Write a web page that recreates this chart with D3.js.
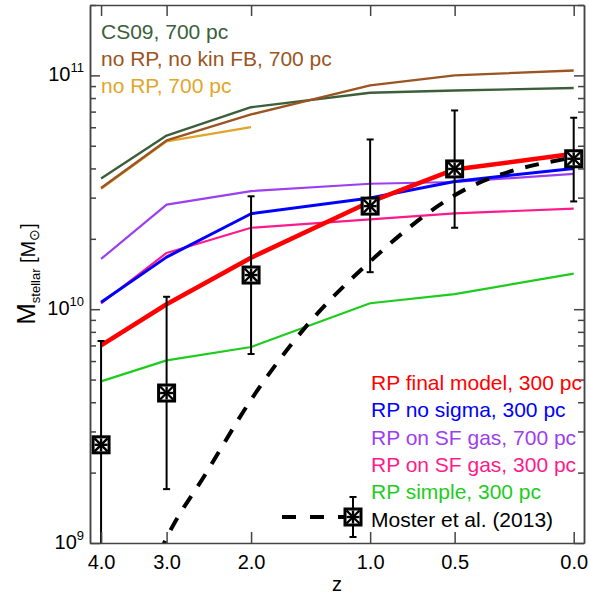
<!DOCTYPE html>
<html>
<head>
<meta charset="utf-8">
<script src="https://cdn.jsdelivr.net/npm/d3@7"></script>
<style>
  body { margin: 0; background: #fff; }
  svg { display: block; font-family: "Liberation Sans", Arial, Helvetica, sans-serif; }
</style>
</head>
<body>
<svg id="chart"></svg>
<script>
// valeurs
const zSim = [4, 3, 2, 1, 0.5, 0];
const cs09 = [3.62e10, 5.53e10, 7.31e10, 8.43e10, 8.62e10, 8.83e10];
const noRpNoKin = [3.30e10, 5.27e10, 6.81e10, 9.06e10, 1.00e11, 1.05e11];
const zNoRp = [4, 3, 2];
const noRp = [3.27e10, 5.22e10, 6.01e10];
const rpSf700 = [1.64e10, 2.80e10, 3.20e10, 3.44e10, 3.50e10, 3.79e10];
const rpSf300 = [1.06e10, 1.74e10, 2.23e10, 2.42e10, 2.57e10, 2.69e10];
const rpNoSigma = [1.07e10, 1.67e10, 2.56e10, 2.99e10, 3.52e10, 4.0e10];
const rpSimple = [4.91e9, 6.04e9, 6.89e9, 1.06e10, 1.16e10, 1.42e10];
const rpFinal = [7.0e9, 1.05e10, 1.66e10, 2.88e10, 3.96e10, 4.62e10];

// Moster et al. (2013)
const zFit = [3.1, 3.0, 2.5, 2.0, 1.5, 1.0, 0.5, 0.0];
const mFit = [0.9e9, 1.05e9, 1.98e9, 4.1e9, 8.3e9, 1.6e10, 3.07e10, 4.46e10];
const zObs = [4, 3, 2, 1, 0.5, 0];
const mObs = [2.63e9, 4.38e9, 1.40e10, 2.76e10, 3.98e10, 4.40e10];
const mHi = [7.31e9, 1.13e10, 3.04e10, 5.32e10, 7.08e10, 6.59e10];
const mLo = [8e8, 1.70e9, 6.43e9, 1.44e10, 2.23e10, 2.89e10];

const zTicks = [4.0, 3.0, 2.0, 1.0, 0.5, 0.0];
const yMajor = [1e9, 1e10, 1e11];
const yExp = [9, 10, 11];

const legendTop = [
  { label: "CS09, 700 pc", color: "#3b5f3b" },
  { label: "no RP, no kin FB, 700 pc", color: "#9b5422" },
  { label: "no RP, 700 pc", color: "#dfa62a" },
];
const legendBottom = [
  { label: "RP final model, 300 pc", color: "#ff0000" },
  { label: "RP no sigma, 300 pc", color: "#0000ff" },
  { label: "RP on SF gas, 700 pc", color: "#9c3ff0" },
  { label: "RP on SF gas, 300 pc", color: "#ff1a8c" },
  { label: "RP simple, 300 pc", color: "#1ecc1e" },
];

const width = 589, height = 598;
const margin = { top: 5, right: 5, bottom: 55, left: 90 };

const svg = d3.select("#chart").attr("width", width).attr("height", height);

// x = log(1+z), inversé
const x = d3.scaleLog().domain([5.192, 0.9655]).range([margin.left, width - margin.right]);
const y = d3.scaleLog().domain([1e9, 2e11]).range([height - margin.bottom, margin.top]);
const X = (z) => x(1 + z);

svg.append("defs").append("clipPath").attr("id", "clip")
  .append("rect")
  .attr("x", margin.left).attr("y", margin.top)
  .attr("width", width - margin.left - margin.right)
  .attr("height", height - margin.top - margin.bottom);

const plot = svg.append("g").attr("clip-path", "url(#clip)");

const line = d3.line().x((d) => X(d[0])).y((d) => y(d[1]));

const series = [
  { z: zSim, v: cs09, color: legendTop[0].color, w: 2.4 },
  { z: zNoRp, v: noRp, color: legendTop[2].color, w: 2.2 },
  { z: zSim, v: noRpNoKin, color: legendTop[1].color, w: 2.4 },
  { z: zSim, v: rpSf700, color: legendBottom[2].color, w: 2.2 },
  { z: zSim, v: rpSf300, color: legendBottom[3].color, w: 2.2 },
  { z: zSim, v: rpNoSigma, color: legendBottom[1].color, w: 3 },
  { z: zSim, v: rpSimple, color: legendBottom[4].color, w: 2.2 },
  { z: zSim, v: rpFinal, color: legendBottom[0].color, w: 4.5 },
];

plot.selectAll("path.model")
  .data(series)
  .join("path")
  .attr("class", "model")
  .attr("d", (s) => line(s.z.map((z, i) => [z, s.v[i]])))
  .attr("fill", "none")
  .attr("stroke", (s) => s.color)
  .attr("stroke-width", (s) => s.w)
  .attr("stroke-linejoin", "round");

// courbe de Moster (tiretée)
plot.append("path")
  .attr("d", d3.line().x((d) => X(d[0])).y((d) => y(d[1])).curve(d3.curveMonotoneX)(zFit.map((z, i) => [z, mFit[i]])))
  .attr("fill", "none")
  .attr("stroke", "#000")
  .attr("stroke-width", 4)
  .attr("stroke-dasharray", "14,12");

// barres d'erreur
const obs = zObs.map((z, i) => ({ z, m: mObs[i], hi: mHi[i], lo: mLo[i] }));
const eb = plot.selectAll("g.err").data(obs).join("g").attr("class", "err");
eb.append("line")
  .attr("x1", (d) => X(d.z)).attr("x2", (d) => X(d.z))
  .attr("y1", (d) => y(d.hi)).attr("y2", (d) => y(d.lo))
  .attr("stroke", "#000").attr("stroke-width", 2);
eb.append("line")
  .attr("x1", (d) => X(d.z) - 3.5).attr("x2", (d) => X(d.z) + 3.5)
  .attr("y1", (d) => y(d.hi)).attr("y2", (d) => y(d.hi))
  .attr("stroke", "#000").attr("stroke-width", 2);
eb.append("line")
  .attr("x1", (d) => X(d.z) - 3.5).attr("x2", (d) => X(d.z) + 3.5)
  .attr("y1", (d) => y(d.lo)).attr("y2", (d) => y(d.lo))
  .attr("stroke", "#000").attr("stroke-width", 2);

function marker(g) {
  g.append("rect").attr("x", -8).attr("y", -8).attr("width", 16).attr("height", 16)
    .attr("fill", "#fff").attr("stroke", "#000").attr("stroke-width", 3);
  const s = 6.5;
  [[-s, -s, s, s], [-s, s, s, -s], [0, -s, 0, s], [-s, 0, s, 0]].forEach((c) => {
    g.append("line").attr("x1", c[0]).attr("y1", c[1]).attr("x2", c[2]).attr("y2", c[3])
      .attr("stroke", "#000").attr("stroke-width", 2.4);
  });
}

plot.selectAll("g.mk").data(obs).join("g").attr("class", "mk")
  .attr("transform", (d) => `translate(${X(d.z)},${y(d.m)})`)
  .each(function () { marker(d3.select(this)); });

// axes
const frameColor = "#444";
const bottom = height - margin.bottom;
const right = width - margin.right;

const axB = svg.append("g").attr("transform", `translate(0,${bottom})`)
  .call(d3.axisBottom(x).tickValues(zTicks.map((z) => 1 + z)).tickSizeInner(-11).tickSizeOuter(0)
    .tickPadding(12).tickFormat((d) => (d - 1).toFixed(1)));
axB.selectAll("text").attr("font-size", 20).attr("fill", "#000").attr("font-family", "Liberation Sans, Arial, sans-serif");

svg.append("g").attr("transform", `translate(0,${margin.top})`)
  .call(d3.axisTop(x).tickValues(zTicks.map((z) => 1 + z)).tickSizeInner(-11).tickSizeOuter(0).tickFormat(""));

const minor = y.ticks().filter((v) => !yMajor.includes(v));
svg.append("g").attr("transform", `translate(${margin.left},0)`)
  .call(d3.axisLeft(y).tickValues(yMajor).tickSizeInner(-10).tickSizeOuter(0).tickFormat(""));
svg.append("g").attr("transform", `translate(${margin.left},0)`)
  .call(d3.axisLeft(y).tickValues(minor).tickSizeInner(-6).tickSizeOuter(0).tickFormat(""));
svg.append("g").attr("transform", `translate(${right},0)`)
  .call(d3.axisRight(y).tickValues(yMajor).tickSizeInner(-10).tickSizeOuter(0).tickFormat(""));
svg.append("g").attr("transform", `translate(${right},0)`)
  .call(d3.axisRight(y).tickValues(minor).tickSizeInner(-6).tickSizeOuter(0).tickFormat(""));

svg.selectAll(".domain, .tick line").attr("stroke", frameColor).attr("stroke-width", 1.5);

// étiquettes 10^n
const yl = svg.append("g").selectAll("text").data(yMajor).join("text")
  .attr("x", margin.left - 6)
  .attr("y", (d) => y(d) + 6)
  .attr("text-anchor", "end")
  .attr("font-size", 20)
  .attr("fill", "#000");
yl.append("tspan").text("10");
yl.append("tspan").attr("dy", -9).attr("font-size", 13).text((d, i) => yExp[i]);

// titres des axes
svg.append("text")
  .attr("x", (margin.left + right) / 2)
  .attr("y", 591)
  .attr("text-anchor", "middle")
  .attr("font-size", 20)
  .text("z");

const yt = svg.append("text")
  .attr("transform", `translate(35,${(margin.top + bottom) / 2}) rotate(-90)`)
  .attr("text-anchor", "middle")
  .attr("font-size", 26);
yt.append("tspan").text("M");
yt.append("tspan").attr("font-size", 13).attr("dy", 5).text("stellar");
yt.append("tspan").attr("font-size", 20).attr("dy", -5).text(" [M");
yt.append("tspan").attr("font-size", 14).attr("dy", 4).text("\u2299");
yt.append("tspan").attr("font-size", 20).attr("dy", -4).text("]");

// légendes
svg.append("g").selectAll("text").data(legendTop).join("text")
  .attr("x", 101)
  .attr("y", (d, i) => 39 + i * 27.2)
  .attr("font-size", 21)
  .attr("fill", (d) => d.color)
  .text((d) => d.label);

svg.append("g").selectAll("text").data(legendBottom).join("text")
  .attr("x", 371)
  .attr("y", (d, i) => 390 + i * 27.3)
  .attr("font-size", 21)
  .attr("fill", (d) => d.color)
  .text((d) => d.label);

const ly = 390 + 5 * 27.3;
svg.append("text").attr("x", 371).attr("y", ly).attr("font-size", 21).attr("fill", "#000")
  .text("Moster et al. (2013)");
const lmY = ly - 9.5;
svg.append("line").attr("x1", 282).attr("x2", 353).attr("y1", lmY).attr("y2", lmY)
  .attr("stroke", "#000").attr("stroke-width", 4).attr("stroke-dasharray", "14,14");
svg.append("line").attr("x1", 353).attr("x2", 353).attr("y1", lmY - 20).attr("y2", lmY + 20)
  .attr("stroke", "#000").attr("stroke-width", 2);
[lmY - 20, lmY + 20].forEach((yy) => {
  svg.append("line").attr("x1", 349.5).attr("x2", 356.5).attr("y1", yy).attr("y2", yy)
    .attr("stroke", "#000").attr("stroke-width", 2);
});
marker(svg.append("g").attr("transform", `translate(353,${lmY})`));
</script>
</body>
</html>
